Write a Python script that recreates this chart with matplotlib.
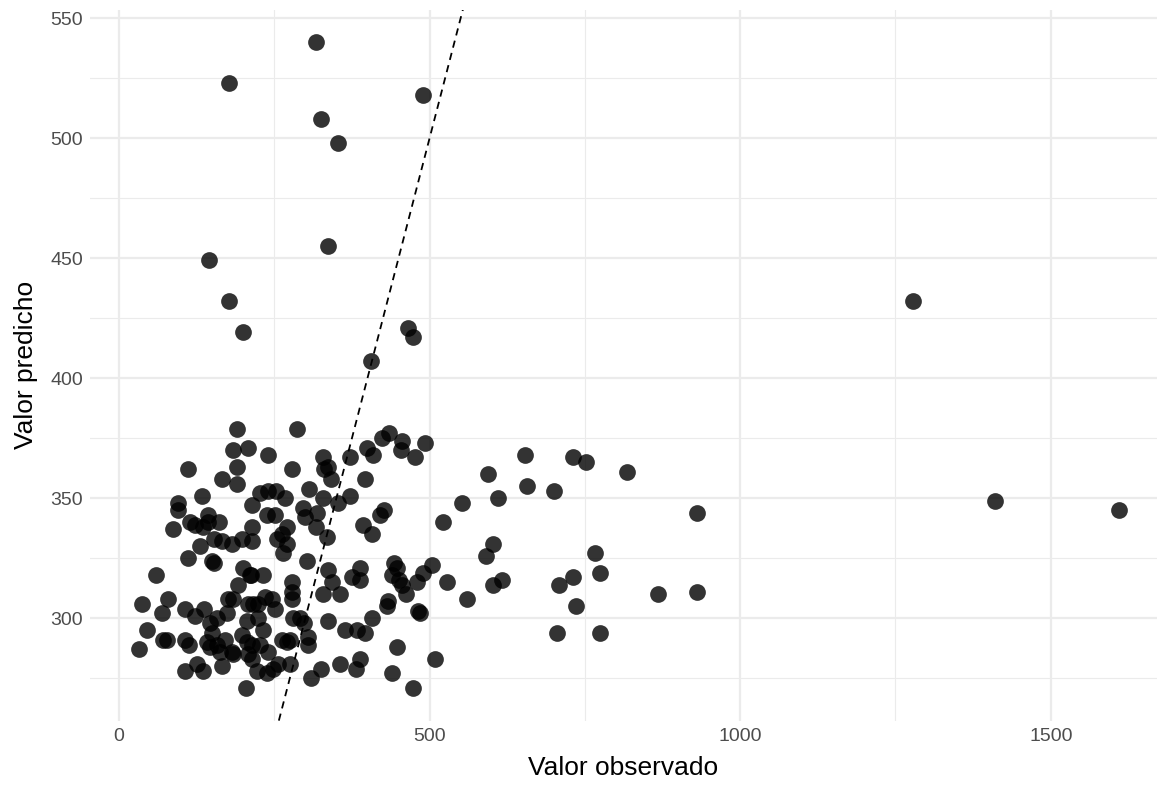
import numpy as np
import matplotlib.pyplot as plt
from matplotlib.ticker import MultipleLocator

plt.rcParams['font.family'] = ['Liberation Sans', 'DejaVu Sans']

# valores (observado, predicho)
observado = [
    317, 177, 489, 325, 352, 336, 145, 177, 200, 465, 473, 406, 1278,
    190, 183, 208, 111, 190, 166, 190, 134, 95, 95, 143, 214,
    286, 240, 278, 328, 336, 330, 341, 372, 399, 409, 396, 306, 328, 352, 372,
    227, 240, 253, 267, 296, 319, 238, 251,
    423, 435, 455, 454, 492, 476, 594, 552, 610, 426, 420,
    653, 731, 752, 818, 657, 700, 930, 1410, 1610,
    87, 114, 122, 135, 143, 161, 153, 166, 182, 198, 214, 130, 111, 150, 153, 200,
    214, 262, 270, 254, 270, 264, 299, 317, 335, 302, 393, 407,
    521, 602, 591, 443, 447, 504, 489, 766,
    60, 212, 192, 79, 37, 106, 137, 175, 183, 216,
    211, 232, 336, 343, 375, 388, 388, 278, 278, 278, 328, 356, 235, 246, 224, 251, 208,
    439, 451, 455, 462, 480, 528, 602, 616, 560, 433, 431, 481,
    774, 731, 708, 868, 930, 736,
    69, 122, 146, 158, 174, 206, 224, 280, 291, 298, 336, 407, 484,
    32, 45, 70, 77, 106, 113, 106, 125, 135, 150, 142, 146, 158, 163, 171, 166,
    182, 183, 198, 232, 206, 214, 227, 208, 214, 240, 222, 238, 256, 248, 204,
    262, 275, 270,
    304, 304, 275, 356, 325, 309, 381, 388, 439, 447, 473, 509, 364, 383, 396,
    705, 774,
]
predicho = [
    540, 523, 518, 508, 498, 455, 449, 432, 419, 421, 417, 407, 432,
    379, 370, 371, 362, 363, 358, 356, 351, 348, 345, 343, 347,
    379, 368, 362, 367, 363, 362, 358, 367, 371, 368, 358, 354, 350, 348, 351,
    352, 353, 353, 350, 346, 344, 343, 343,
    375, 377, 374, 370, 373, 367, 360, 348, 350, 345, 343,
    368, 367, 365, 361, 355, 353, 344, 349, 345,
    337, 340, 339, 338, 340, 340, 333, 332, 331, 333, 332, 330, 325, 324, 323, 321,
    338, 335, 338, 333, 331, 327, 342, 338, 334, 324, 339, 335,
    340, 331, 326, 323, 321, 322, 319, 327,
    318, 318, 314, 308, 306, 304, 304, 308, 308, 306,
    318, 318, 320, 315, 317, 321, 316, 315, 311, 308, 310, 310, 309, 308, 306, 304, 306,
    318, 316, 314, 310, 315, 315, 314, 316, 308, 307, 305, 303,
    319, 317, 314, 310, 311, 305,
    302, 301, 298, 300, 302, 299, 300, 300, 300, 298, 299, 300, 302,
    287, 295, 291, 291, 291, 289, 278, 281, 278, 294, 290, 288, 289, 286, 291, 280,
    286, 285, 293, 295, 290, 289, 289, 285, 283, 286, 278, 277, 281, 279, 271,
    291, 291, 290,
    292, 289, 281, 281, 279, 275, 279, 283, 277, 288, 271, 283, 295, 295, 294,
    294, 294,
]

x_ticks = [0, 500, 1000, 1500]
y_ticks = [300, 350, 400, 450, 500, 550]

fig = plt.figure(figsize=(11.62, 7.85), dpi=100)
ax = fig.add_axes([0.0773, 0.082, 0.9184, 0.9057])

ax.scatter(observado, predicho, s=145, color='black', alpha=0.8, linewidths=0, zorder=3)
ax.axline((0, 0), slope=1, color='black', linestyle=(0, (4, 3)), linewidth=1.3, zorder=2)

ax.set_xlim(-47, 1671)
ax.set_ylim(257.3, 553.5)
ax.set_xticks(x_ticks)
ax.set_yticks(y_ticks)
ax.xaxis.set_minor_locator(MultipleLocator(250))
ax.yaxis.set_minor_locator(MultipleLocator(25))

ax.grid(which='major', color='#EBEBEB', linewidth=1.6, zorder=0)
ax.grid(which='minor', color='#EBEBEB', linewidth=0.8, zorder=0)
ax.set_axisbelow(True)
for s in ax.spines.values():
    s.set_visible(False)
ax.tick_params(which='both', length=0, labelsize=14, labelcolor='#4D4D4D', pad=5)

ax.set_xlabel('Valor observado', fontsize=19, labelpad=8)
ax.set_ylabel('Valor predicho', fontsize=19, labelpad=9)

fig.savefig('out.png', dpi=100)
